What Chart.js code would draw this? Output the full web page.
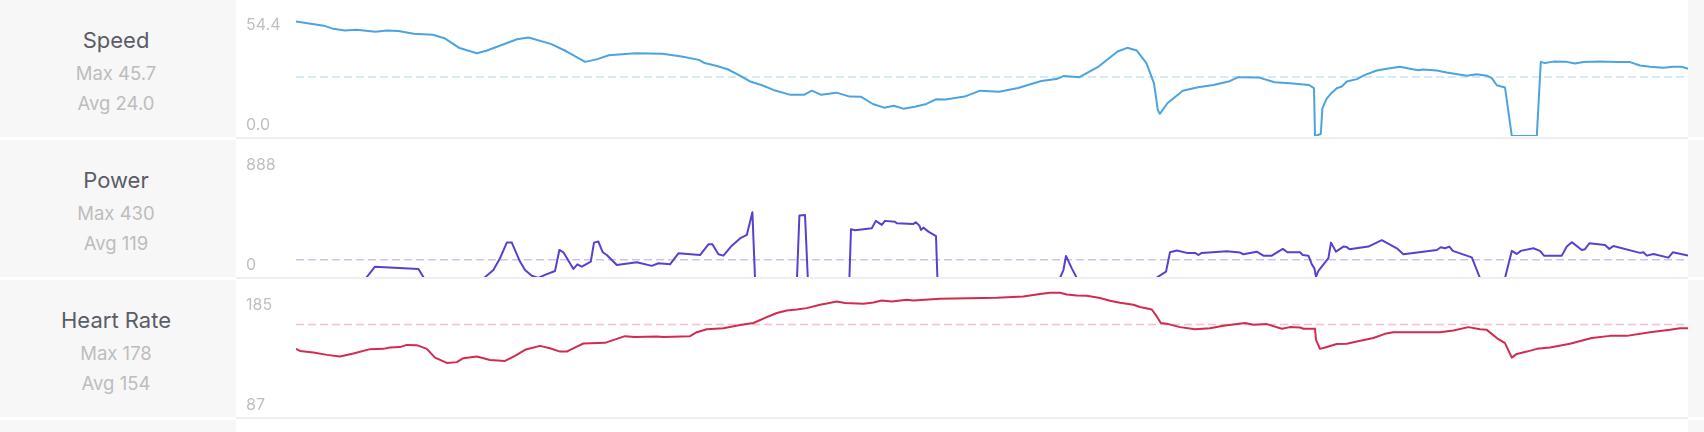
<!DOCTYPE html>
<html>
<head>
<meta charset="utf-8">
<script src="https://cdn.jsdelivr.net/npm/chart.js@4"></script>
<style>
body{margin:0;width:1704px;height:432px;overflow:hidden;background:#fff;font-family:Inter,"Noto Sans",sans-serif;}
.row{position:relative;height:140px;}
.side{position:absolute;left:0;top:0;width:236px;height:137px;background:#f7f7f7;}
.rside{position:absolute;left:1688px;top:0;width:16px;height:137px;background:#f7f7f7;}
.name{position:absolute;left:0;top:27px;width:232px;text-align:center;font-size:22px;line-height:26px;color:#5c5c67;}
.stat{position:absolute;left:0;width:232px;text-align:center;font-size:18.5px;line-height:22px;color:#bdbdbd;}
.tick{position:absolute;left:246px;font-size:16px;line-height:20px;color:#bfbfbf;z-index:2;}
canvas{position:absolute;left:236px;top:0;}
.rule{position:absolute;left:236px;top:137px;width:1452px;height:2px;background:#efefef;z-index:3;}
</style>
</head>
<body>
<div id="rows"></div>
<script>
const metrics = ['Speed', 'Power', 'Heart Rate'];
const maxLabels = ['Max 45.7', 'Max 430', 'Max 178'];
const avgLabels = ['Avg 24.0', 'Avg 119', 'Avg 154'];
const topTicks = ['54.4', '888', '185'];
const bottomTicks = ['0.0', '0', '87'];
const axisMin = [0, 0, 87];
const axisMax = [54.4, 888, 185];
const averages = [24.0, 119, 154];
const rideEnd = 6960; // seconds

// speed, km/h
const speedTime = [0,139,187,244,302,397,455,512,589,684,742,818,904,952,1105,1163,1277,1354,1446,1507,1564,1698,1832,1928,2014,2043,2100,2158,2215,2272,2330,2387,2473,2540,2579,2626,2702,2769,2826,2884,2941,2989,3037,3094,3152,3199,3247,3343,3420,3515,3611,3726,3802,3840,3917,4013,4108,4156,4204,4252,4290,4309,4319,4357,4434,4510,4587,4663,4711,4816,4893,4969,5065,5090,5095,5124,5132,5154,5179,5204,5229,5254,5304,5345,5404,5454,5520,5570,5612,5637,5704,5754,5854,5904,5954,5979,6004,6045,6079,6204,6224,6245,6287,6354,6395,6437,6520,6604,6670,6720,6770,6837,6887,6929,6960];
const speedKmh = [46.5,44.8,43.5,42.8,43.1,42.3,42.8,42.6,41.5,41.1,39.7,35.7,33.6,34.6,39.3,40.0,37.3,34.3,30.1,31.2,32.8,33.6,33.4,32.3,30.9,29.6,28.5,27.1,24.7,22.1,20.6,18.7,16.7,16.7,18.4,16.7,17.6,16.0,15.9,13.0,11.5,12.3,11.1,11.9,13.0,14.9,14.8,16.0,18.4,18.0,19.5,22.3,23.1,24.4,23.9,28.2,34.3,35.8,34.7,29.6,21.4,10.6,9.0,13.3,18.4,19.8,20.7,22.1,23.9,23.7,21.8,21.4,20.7,19.4,0,0.8,11.3,15.3,17.6,19.4,20.1,22.1,23.1,24.8,26.6,27.3,28.1,27.3,26.7,27.0,26.6,25.8,24.5,25.1,24.5,23.5,20.6,19.7,0,0,30.1,29.6,30.2,30.1,29.4,30.0,30.2,30.0,30.0,28.6,28.1,27.7,28.1,28.1,27.3];

// power, watts
const powerTime = [0,350,395,612,640,940,987,1020,1054,1079,1120,1145,1179,1212,1245,1295,1317,1337,1387,1407,1429,1474,1490,1512,1534,1554,1604,1704,1779,1812,1870,1912,2020,2062,2082,2112,2137,2179,2220,2254,2282,2295,2505,2517,2545,2559,2767,2775,2795,2879,2899,2929,2945,2995,3004,3087,3099,3117,3125,3137,3162,3200,3207,3820,3837,3850,3879,3904,4300,4350,4370,4404,4454,4495,4512,4529,4654,4720,4737,4804,4837,4879,4934,4957,5020,5034,5062,5079,5092,5100,5112,5162,5175,5200,5237,5254,5267,5362,5429,5504,5537,5704,5724,5745,5767,5784,5879,5920,6045,6079,6104,6124,6187,6220,6240,6329,6354,6379,6429,6445,6467,6545,6567,6587,6720,6737,6754,6787,6862,6884,6960];
const powerWatts = [0,0,74,59,0,0,52,129,231,231,107,52,15,0,20,46,183,168,59,89,74,107,231,238,168,150,85,103,79,96,89,161,150,220,220,155,146,211,258,281,430,0,0,408,412,0,0,319,312,325,373,347,373,368,358,353,364,342,314,329,303,273,0,0,52,144,63,0,0,41,168,179,164,164,150,164,175,166,155,172,146,146,190,168,168,150,146,90,63,8,46,129,231,172,205,203,188,205,247,194,155,183,201,194,205,177,135,0,0,177,157,177,194,177,146,146,205,234,183,188,227,216,190,209,164,168,146,157,133,168,146];

// heart rate, bpm
const hrTime = [0,20,87,154,220,287,370,437,470,520,554,604,654,695,754,804,837,904,970,1045,1095,1145,1220,1270,1320,1354,1404,1437,1545,1645,1695,1804,1837,1970,2004,2054,2137,2220,2287,2362,2404,2454,2504,2554,2620,2654,2704,2745,2837,2887,2929,2979,3054,3087,3220,3504,3637,3720,3770,3820,3854,3904,3954,4020,4070,4120,4187,4220,4279,4304,4324,4362,4420,4495,4570,4637,4745,4787,4854,4929,4970,5020,5037,5095,5100,5120,5145,5204,5254,5304,5387,5445,5487,5720,5787,5862,5920,5954,6004,6045,6079,6104,6154,6204,6270,6370,6479,6570,6654,6770,6870,6920,6960];
const hrBpm = [136.1,134.6,133.4,131.7,130.5,132.7,135.9,136.1,137.1,137.4,139.0,138.8,136.1,129.7,125.8,126.4,129.3,130.5,128.0,127.3,131.0,135.4,138.3,136.6,134.1,134.1,137.8,140.0,140.5,145.4,144.7,145.1,144.7,145.4,148.3,150.5,151.2,153.5,155.0,159.8,162.3,164.2,164.9,165.9,168.4,169.3,170.8,169.6,169.1,170.0,171.5,170.8,172.0,171.5,172.8,173.5,174.4,176.2,177.2,177.2,175.9,175.2,175.0,173.3,171.3,169.8,168.4,166.7,164.9,159.8,155.0,154.2,152.0,150.5,151.2,153.0,155.0,153.7,154.2,150.8,152.0,151.7,150.8,150.8,142.7,136.1,137.1,139.6,139.8,141.5,144.0,147.1,148.3,148.3,149.5,152.0,150.5,150.0,144.0,140.3,129.7,132.4,134.1,136.1,137.1,139.8,144.0,145.6,145.6,148.3,150.0,151.2,151.2];

const series = [[speedTime, speedKmh], [powerTime, powerWatts], [hrTime, hrBpm]];
const looks = [
    {line: '#4ba4e0', avg: '#c6e3f5', bottom: 4},
    {line: '#5b3fce', avg: '#cbc3ef', bottom: 2},
    {line: '#d32b50', avg: '#f3bfcb', bottom: 4}
];

const holder = document.getElementById('rows');

metrics.forEach(function(name, i) {
    const row = document.createElement('div');
    row.className = 'row';
    row.innerHTML =
        '<div class="side"><div class="name">' + name + '</div>' +
        '<div class="stat" style="top:62px">' + maxLabels[i] + '</div>' +
        '<div class="stat" style="top:92px">' + avgLabels[i] + '</div></div>' +
        '<div class="tick" style="top:14px">' + topTicks[i] + '</div>' +
        '<div class="tick" style="top:114px">' + bottomTicks[i] + '</div>' +
        '<canvas width="1452" height="140"></canvas>' +
        '<div class="rule"></div><div class="rside"></div>';
    holder.appendChild(row);

    const time = series[i][0];
    const vals = series[i][1];
    const look = looks[i];

    new Chart(row.querySelector('canvas'), {
        type: 'line',
        data: {
            datasets: [{
                data: time.map((t, j) => ({x: t, y: vals[j]})),
                borderColor: look.line,
                borderWidth: 2,
                borderJoinStyle: 'round',
                pointRadius: 0,
                tension: 0,
                fill: false
            }, {
                data: [{x: time[0], y: averages[i]}, {x: time[time.length - 1], y: averages[i]}],
                borderColor: look.avg,
                borderWidth: 1.5,
                borderDash: [8, 4],
                pointRadius: 0,
                fill: false
            }]
        },
        options: {
            responsive: false,
            animation: false,
            events: [],
            layout: {padding: {left: 60, right: 0, top: 2, bottom: look.bottom}},
            scales: {
                x: {type: 'linear', display: false, min: 0, max: rideEnd},
                y: {display: false, min: axisMin[i], max: axisMax[i]}
            },
            plugins: {legend: {display: false}, tooltip: {enabled: false}}
        }
    });
});

// start of the next row, cut off by the window
const tail = document.createElement('div');
tail.className = 'row';
tail.innerHTML = '<div class="side"></div><div class="rside"></div>';
holder.appendChild(tail);
</script>
</body>
</html>
